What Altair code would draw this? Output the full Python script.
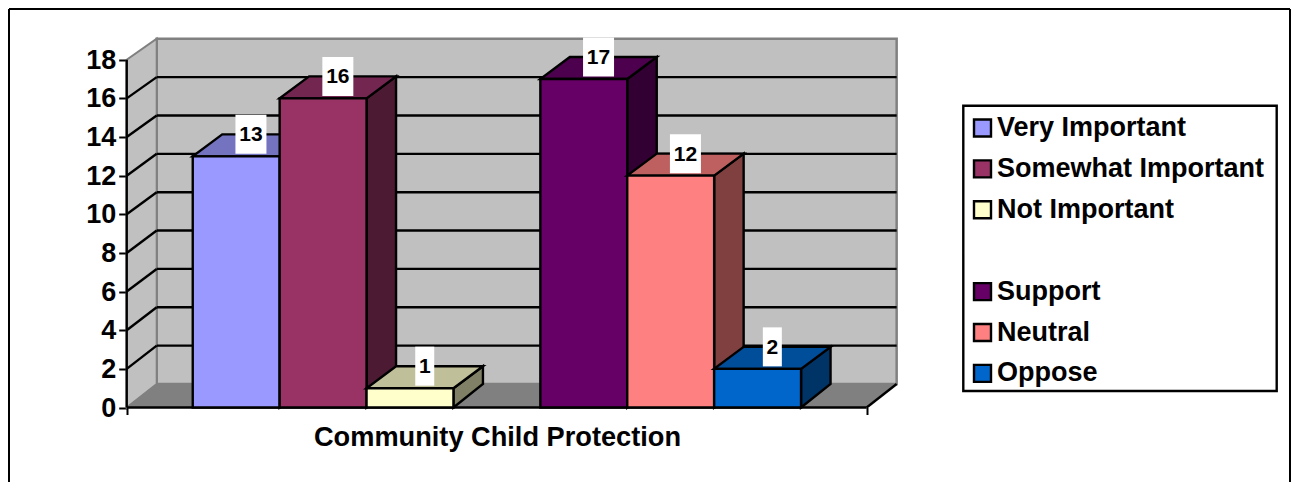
import altair as alt
import pandas as pd

# ---- data
series = ["Very Important", "Somewhat Important", "Not Important", "Support", "Neutral", "Oppose"]
values = [13, 16, 1, 17, 12, 2]
bar_slots = [0.76, 1.76, 2.76, 4.76, 5.76, 6.76]
front_colors = ["#9999FF", "#993366", "#FFFFCC", "#660066", "#FF8080", "#0066CC"]
top_colors = ["#7373BF", "#732650", "#BFBF99", "#4D004D", "#BF6060", "#004D99"]
side_colors = ["#4D4D80", "#4D1A33", "#808066", "#330033", "#804040", "#003366"]
y_ticks = list(range(0, 20, 2))
axis_title = "Community Child Protection"
legend_entries = ["Very Important", "Somewhat Important", "Not Important", " ", "Support", "Neutral", "Oppose"]
legend_fill = ["#9999FF", "#993366", "#FFFFCC", "#FFFFFF", "#660066", "#FF8080", "#0066CC"]
legend_stroke = ["black", "black", "black", "#FFFFFF", "black", "black", "black"]

# ---- layout
W, H = 1281, 473
FONT = "Liberation Sans"
UX, UY = 86.9, 19.32            # px per bar width, px per value
X0, Y0 = 117.7, 398.5           # where (0, 0) falls inside the view
x_end = 8.515
dx_wall = 30 / UX
dx_bar = 29.5 / UX
dy_bar = 22 / UY
dy_bar_floor = 23.5 / UY
LINE = 2.4


def wall(v):
    """Height on the back wall of a value v on the front plane."""
    return 0.9928 * v + 1.216


xs = alt.Scale(domain=[-X0 / UX, (W - X0) / UX], nice=False, zero=False)
ys = alt.Scale(domain=[(Y0 - H) / UY, Y0 / UY], nice=False, zero=False)


def X(f="x"):
    return alt.X(f"{f}:Q", scale=xs, title=None, axis=None)


def Y(f="y"):
    return alt.Y(f"{f}:Q", scale=ys, title=None, axis=None)


def area(rows, fill, stroke, width=LINE):
    return alt.Chart(pd.DataFrame(rows, columns=["x", "y", "y2"])).mark_area(
        fill=fill, stroke=stroke, strokeWidth=width, orient="vertical", strokeJoin="miter"
    ).encode(x=X(), y=Y(), y2="y2:Q")


layers = []

# axes carried by an invisible layer
axis_df = pd.DataFrame({"x": [0, x_end], "y": [0, 18]})
layers.append(
    alt.Chart(axis_df).mark_point(opacity=0).encode(
        x=alt.X("x:Q", scale=xs, title=axis_title, axis=alt.Axis(
            values=[0, x_end], labels=False, domain=False, grid=False, tickColor="black",
            tickWidth=2, tickSize=7, offset=Y0 - H, titleFont=FONT, titleFontSize=27.2,
            titleFontWeight="bold", titleColor="black", titleX=488, titleY=38,
            titleAlign="center", titleBaseline="alphabetic")),
        y=alt.Y("y:Q", scale=ys, title=None, axis=alt.Axis(
            values=y_ticks, domain=False, grid=False, tickColor="black", tickWidth=2, tickSize=8,
            offset=-X0, labelFont=FONT, labelFontSize=27, labelFontWeight="bold", labelColor="black",
            labelPadding=3, labelBound=False, labelFlush=False, labelOffset=0.5)),
    )
)

# walls and floor
layers.append(area([[dx_wall, wall(0), wall(18)], [x_end + dx_wall, wall(0), wall(18)]], "#C0C0C0", "#808080", 2.5))
layers.append(area([[0, 0, 18], [dx_wall, wall(0), wall(18)]], "#C0C0C0", "#808080", 2))
layers.append(area([[0, 0, 0], [dx_wall, wall(0), 0], [x_end, wall(0), 0], [x_end + dx_wall, wall(0), wall(0)]],
                   "#808080", "#808080", 1))

# gridlines on the back wall and the side wall
grid_rows, slant_rows = [], []
for v in y_ticks[1:-1]:
    grid_rows += [{"x": dx_wall, "y": wall(v), "k": v}, {"x": x_end + dx_wall, "y": wall(v), "k": v}]
    slant_rows += [{"x": 0, "y": v, "k": v}, {"x": dx_wall, "y": wall(v), "k": v}]
for rows in (grid_rows, slant_rows):
    layers.append(alt.Chart(pd.DataFrame(rows)).mark_line(color="black", strokeWidth=LINE).encode(
        x=X(), y=Y(), detail="k:N"))

# front edges of the floor and the y axis line
edge_rows = [
    {"x": 0, "y": 0, "k": "base"}, {"x": x_end, "y": 0, "k": "base"},
    {"x": 0, "y": 0, "k": "axis"}, {"x": 0, "y": 18, "k": "axis"},
    {"x": x_end, "y": 0, "k": "right"}, {"x": x_end + dx_wall, "y": wall(0), "k": "right"},
]
layers.append(alt.Chart(pd.DataFrame(edge_rows)).mark_line(color="black", strokeWidth=LINE).encode(
    x=X(), y=Y(), detail="k:N"))

# 3-D bars, drawn from left to right
for slot, v, fc, tc, sc in zip(bar_slots, values, front_colors, top_colors, side_colors):
    x1 = slot + 1
    layers.append(area([[x1, 0, v], [x1 + dx_bar, dy_bar_floor, v + dy_bar]], sc, "black"))
    layers.append(area([[slot, v, v], [slot + dx_bar, v, v + dy_bar], [x1, v, v + dy_bar],
                        [x1 + dx_bar, v + dy_bar, v + dy_bar]], tc, "black"))
    layers.append(alt.Chart(pd.DataFrame({"x": [slot], "x2": [x1], "y": [0], "y2": [v]})).mark_rect(
        fill=fc, stroke="black", strokeWidth=LINE).encode(x=X(), x2="x2:Q", y=Y(), y2="y2:Q"))

# data labels
lab = pd.DataFrame({
    "x": [s + 0.5 + dx_bar / 2 for s in bar_slots],
    "y": [v + dy_bar for v in values],
    "t": [str(v) for v in values],
})
lab["half"] = [(15.5 if v >= 10 else 9.5) / UX for v in values]
lab["xa"] = lab.x - lab.half
lab["xb"] = lab.x + lab.half
lab["ya"] = lab.y - 19.5 / UY
lab["yb"] = lab.y + 19.5 / UY
layers.append(alt.Chart(lab).mark_rect(fill="white").encode(x=X("xa"), x2="xb:Q", y=Y("ya"), y2="yb:Q"))
layers.append(alt.Chart(lab).mark_text(font=FONT, fontSize=21, fontWeight="bold", color="black", baseline="middle",
                                       dy=1).encode(x=X(), y=Y(), text="t:N"))

# frame round the chart (three edges; the bottom one lies outside the picture)
one = pd.DataFrame({"a": [0]})
for enc in (dict(x=alt.value(0), y=alt.value(0), y2=alt.value(H)),
            dict(x=alt.value(W), y=alt.value(0), y2=alt.value(H)),
            dict(y=alt.value(0), x=alt.value(0), x2=alt.value(W))):
    layers.append(alt.Chart(one).mark_rule(color="black", strokeWidth=2).encode(**enc))

# legend box and legend
layers.append(alt.Chart(one).mark_rect(fill="white", stroke="black", strokeWidth=2.4).encode(
    x=alt.value(954.3), x2=alt.value(1267.7), y=alt.value(96.7), y2=alt.value(382)))
leg = pd.DataFrame({"name": legend_entries})
layers.append(
    alt.Chart(leg).mark_point(filled=True, size=0, strokeWidth=2, opacity=1).encode(
        x=alt.value(0), y=alt.value(0),
        color=alt.Color("name:N", scale=alt.Scale(domain=legend_entries, range=legend_fill), title=None,
                        legend=alt.Legend(orient="none", legendX=960, legendY=105.5, padding=0,
                                          symbolType="square", symbolSize=289,
                                          symbolStrokeWidth=2.4, labelFont=FONT, labelFontSize=27,
                                          labelFontWeight="bold", labelColor="black", labelOffset=1,
                                          rowPadding=12.9, labelLimit=400, symbolOpacity=1)),
        stroke=alt.Stroke("name:N", scale=alt.Scale(domain=legend_entries, range=legend_stroke), title=None),
    )
)

chart = alt.layer(*layers).properties(
    width=W, height=H, padding={"left": 1, "top": 1, "right": 1, "bottom": 1},
    autosize=alt.AutoSizeParams(type="none"), background="white",
).resolve_axis(x="independent", y="independent").configure_view(stroke=None)

chart.save("out.html", embed_options={"renderer": "svg", "actions": False})
